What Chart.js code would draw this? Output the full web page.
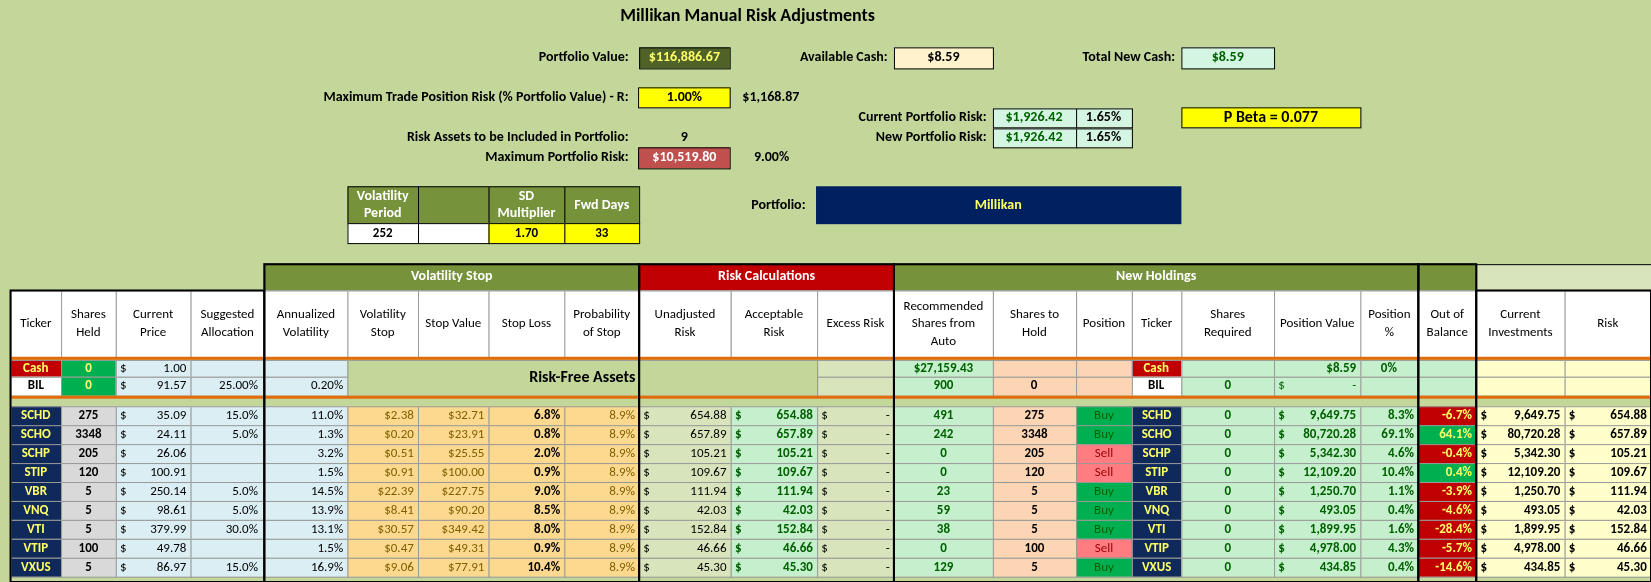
<!DOCTYPE html>
<html><head><meta charset="utf-8">
<script src="https://cdn.jsdelivr.net/npm/chart.js@4.4.0/dist/chart.umd.min.js"></script>
<style>html,body{margin:0;padding:0;background:#c4d79b}#c{display:block}</style>
</head><body>
<div style="width:1651px;height:582px"><canvas id="c"></canvas></div>
<script>
"use strict";
// data
var tickers = ["SCHD","SCHO","SCHP","STIP","VBR","VNQ","VTI","VTIP","VXUS"];
var sharesHeld = [275,3348,205,120,5,5,5,100,5];
var prices = ["35.09","24.11","26.06","100.91","250.14","98.61","379.99","49.78","86.97"];
var allocation = ["15.0%","5.0%","","","5.0%","5.0%","30.0%","","15.0%"];
var annVol = ["11.0%","1.3%","3.2%","1.5%","14.5%","13.9%","13.1%","1.5%","16.9%"];
var volStop = ["$2.38","$0.20","$0.51","$0.91","$22.39","$8.41","$30.57","$0.47","$9.06"];
var stopValue = ["$32.71","$23.91","$25.55","$100.00","$227.75","$90.20","$349.42","$49.31","$77.91"];
var stopLoss = ["6.8%","0.8%","2.0%","0.9%","9.0%","8.5%","8.0%","0.9%","10.4%"];
var probStop = ["8.9%","8.9%","8.9%","8.9%","8.9%","8.9%","8.9%","8.9%","8.9%"];
var risk = ["654.88","657.89","105.21","109.67","111.94","42.03","152.84","46.66","45.30"];
var recommended = [491,242,0,0,23,59,38,0,129];
var position = ["Buy","Buy","Sell","Sell","Buy","Buy","Buy","Sell","Buy"];
var positionValue = ["9,649.75","80,720.28","5,342.30","12,109.20","1,250.70","493.05","1,899.95","4,978.00","434.85"];
var positionPct = ["8.3%","69.1%","4.6%","10.4%","1.1%","0.4%","1.6%","4.3%","0.4%"];
var outOfBalance = ["-6.7%","64.1%","-0.4%","0.4%","-3.9%","-4.6%","-28.4%","-5.7%","-14.6%"];

var colEdges = [10,58,110,181,251,330,397,464,536,607,694,776,849,943,1022,1075,1122,1210,1292,1347,1402,1486,1568];
var headers = ["Ticker","Shares|Held","Current|Price","Suggested|Allocation","Annualized|Volatility","Volatility|Stop","Stop Value","Stop Loss","Probability|of Stop","Unadjusted|Risk","Acceptable|Risk","Excess Risk","Recommended|Shares from|Auto","Shares to|Hold","Position","Ticker","Shares|Required","Position Value","Position|%","Out of|Balance","Current|Investments","Risk"];
var colFill = ["#0f2a5a","#d9d9d9","#dbeef4","#dbeef4","#dbeef4","#fcd98f","#fcd98f","#fcd98f","#fcd98f","#d8e4bc","#c6efce","#d8e4bc","#c6efce","#fcd5b4","","#0f2a5a","#c6efce","#c6efce","#c6efce","","#ffffcc","#ffffcc"];

var FONT = "Calibri, 'Liberation Sans', Arial, sans-serif";
var K = 1651 / 1568;

var sheet = {
  id: "sheet",
  afterDraw: function (chart) {
    var ctx = chart.ctx, xs = chart.scales.x, ys = chart.scales.y;
    var X = function (v) { return xs.getPixelForValue(v); };
    var Y = function (v) { return ys.getPixelForValue(v); };
    function rect(x0, y0, x1, y1, fill, stroke, lw) {
      if (fill) { ctx.fillStyle = fill; ctx.fillRect(X(x0), Y(y0), X(x1) - X(x0), Y(y1) - Y(y0)); }
      if (stroke) { ctx.strokeStyle = stroke; ctx.lineWidth = lw || 1; ctx.strokeRect(X(x0) + .5, Y(y0) + .5, X(x1) - X(x0), Y(y1) - Y(y0)); }
    }
    function text(s, x, y, align, color, size, bold) {
      ctx.font = (bold ? "bold " : "") + Math.round((size || 12) * K) + "px " + FONT;
      ctx.fillStyle = color || "#000"; ctx.textAlign = align || "center"; ctx.textBaseline = "middle";
      ctx.fillText(s, X(x), Y(y));
    }
    function money(v, x0, x1, y, color, bold) {
      text("$", x0 + 4, y, "left", color, 12, bold);
      text(v, x1 - 4, y, "right", color, 12, bold);
    }
    ctx.save();
    // top area
    text("Millikan Manual Risk Adjustments", 710, 16, "center", "#000", 17, true);
    text("Portfolio Value:", 597, 55, "right", "#000", 13, true);
    rect(607, 45, 693, 65, "#4f6228", "#000"); text("$116,886.67", 650, 55, "center", "#ffff66", 13, true);
    text("Available Cash:", 843, 55, "right", "#000", 13, true);
    rect(849, 45, 943, 65, "#fff2cc", "#000"); text("$8.59", 896, 55, "center", "#000", 13, true);
    text("Total New Cash:", 1116, 55, "right", "#000", 13, true);
    rect(1122, 45, 1210, 65, "#d5f5e3", "#000"); text("$8.59", 1166, 55, "center", "#006100", 13, true);
    text("Maximum Trade Position Risk (% Portfolio Value) - R:", 597, 93, "right", "#000", 13, true);
    rect(606, 83, 693, 102, "#ffff00", "#000"); text("1.00%", 650, 93, "center", "#000", 13, true);
    text("$1,168.87", 705, 93, "left", "#000", 13, true);
    text("Current Portfolio Risk:", 937, 112, "right", "#000", 13, true);
    text("New Portfolio Risk:", 937, 131, "right", "#000", 13, true);
    [112, 131].forEach(function (y) {
      rect(943, y - 9, 1022, y + 9, "#d5f5e3", "#000"); text("$1,926.42", 982, y, "center", "#006100", 13, true);
      rect(1022, y - 9, 1075, y + 9, "#d5f5e3", "#000"); text("1.65%", 1048, y, "center", "#000", 13, true);
    });
    rect(1122, 102, 1292, 121, "#ffff00", "#000"); text("P Beta = 0.077", 1207, 112, "center", "#000", 15, true);
    text("Risk Assets to be Included in Portfolio:", 597, 131, "right", "#000", 13, true);
    text("9", 650, 131, "center", "#000", 13, true);
    text("Maximum Portfolio Risk:", 597, 150, "right", "#000", 13, true);
    rect(606, 140, 693, 160, "#c0504d", "#000"); text("$10,519.80", 650, 150, "center", "#fff", 13, true);
    text("9.00%", 716, 150, "left", "#000", 13, true);
    var small = [["Volatility|Period", "252", "#fff"], ["", "", "#fff"], ["SD|Multiplier", "1.70", "#ffff00"], ["Fwd Days", "33", "#ffff00"]];
    small.forEach(function (s, i) {
      var x0 = colEdges[5 + i], x1 = colEdges[6 + i], xm = (x0 + x1) / 2;
      rect(x0, 177, x1, 212, "#76933c", "#000");
      var l = s[0].split("|");
      l.forEach(function (t, k) { text(t, xm, 195 + (k - (l.length - 1) / 2) * 16, "center", "#fff", 13, true); });
      rect(x0, 212, x1, 231, s[2], "#000"); text(s[1], xm, 222, "center", "#000", 12, true);
    });
    text("Portfolio:", 765, 195, "right", "#000", 13, true);
    rect(775, 177, 1122, 213, "#002060"); text("Millikan", 948, 195, "center", "#ffff66", 13, true);

    // group headers
    rect(251, 251, 607, 276, "#76933c", "#000"); text("Volatility Stop", 429, 263, "center", "#fff", 13, true);
    rect(607, 251, 849, 276, "#c00000", "#000"); text("Risk Calculations", 728, 263, "center", "#fff", 13, true);
    rect(849, 251, 1347, 276, "#76933c", "#000"); text("New Holdings", 1098, 263, "center", "#fff", 13, true);
    rect(1347, 251, 1402, 276, "#76933c", "#000");
    rect(1402, 251, 1568, 276, "#d8e4bc", "#000");
    // column headers
    for (var c = 0; c < headers.length; c++) {
      var x0 = colEdges[c], x1 = colEdges[c + 1];
      rect(x0, 276, x1, 340, "#fff", "#999");
      var lines = headers[c].split("|");
      lines.forEach(function (t, k) { text(t, (x0 + x1) / 2, 308 + (k - (lines.length - 1) / 2) * 17, "center", "#000", 12); });
    }
    // cash / BIL rows
    var cy = [[342, 358], [358, 376]];
    for (c = 0; c < 22; c++) {
      if (c >= 5 && c <= 10) continue;
      var f = ["#c00000", "#00b050", "#dbeef4", "#dbeef4", "#dbeef4"][c] || ["", "", "", "", "", "", "", "", "", "", "", "#d8e4bc", "#c6efce", "#fcd5b4", "#fcd5b4", "#c00000", "#c6efce", "#c6efce", "#c6efce", "#c6efce", "#ffffcc", "#ffffcc"][c];
      cy.forEach(function (r, i) {
        var ff = f;
        if ((c === 0 || c === 15) && i === 1) ff = "#fff";
        if (c === 1 && i === 1) ff = "#00b050";
        rect(colEdges[c], r[0], colEdges[c + 1], r[1], ff, "#999");
      });
    }
    rect(330, 342, 776, 376, "#c4d79b", "#999");
    text("Risk-Free Assets", 553, 359, "center", "#000", 15, true);
    text("Cash", 34, 350, "center", "#ffff66", 12, true); text("BIL", 34, 367, "center", "#000", 12, true);
    text("0", 84, 350, "center", "#ffff66", 12, true); text("0", 84, 367, "center", "#ffff66", 12, true);
    money("1.00", 110, 181, 350); money("91.57", 110, 181, 367);
    text("25.00%", 245, 367, "right"); text("0.20%", 326, 367, "right");
    text("$27,159.43", 896, 350, "center", "#006100", 12, true); text("900", 896, 367, "center", "#006100", 12, true);
    text("0", 982, 367, "center", "#000", 12, true);
    text("Cash", 1098, 350, "center", "#ffff66", 12, true); text("BIL", 1098, 367, "center", "#000", 12, true);
    text("0", 1166, 367, "center", "#006100", 12, true);
    text("$8.59", 1288, 350, "right", "#006100", 12, true);
    money("-", 1210, 1292, 367, "#006100");
    text("0%", 1319, 350, "center", "#006100", 12, true);
    // data rows
    tickers.forEach(function (t, i) {
      var y0 = 386 + i * 18, y1 = y0 + 18, ym = y0 + 9;
      for (var c = 0; c < 22; c++) {
        var f = colFill[c];
        if (c === 14) f = position[i] === "Buy" ? "#00b050" : "#ff7c80";
        if (c === 19) f = outOfBalance[i].charAt(0) === "-" ? "#c00000" : "#00b050";
        rect(colEdges[c], y0, colEdges[c + 1], y1, f, "#999");
      }
      var cx = function (c) { return (colEdges[c] + colEdges[c + 1]) / 2; };
      text(t, cx(0), ym, "center", "#ffff66", 12, true);
      text(String(sharesHeld[i]), cx(1), ym, "center", "#000", 12, true);
      money(prices[i], 110, 181, ym);
      text(allocation[i], 245, ym, "right");
      text(annVol[i], 326, ym, "right");
      text(volStop[i], 393, ym, "right", "#7f6000");
      text(stopValue[i], 460, ym, "right", "#7f6000");
      text(stopLoss[i], 532, ym, "right", "#000", 12, true);
      text(probStop[i], 603, ym, "right", "#7f6000");
      money(risk[i], 607, 694, ym);
      money(risk[i], 694, 776, ym, "#006100", true);
      money("-", 776, 849, ym);
      text(String(recommended[i]), cx(12), ym, "center", "#006100", 12, true);
      text(String(sharesHeld[i]), cx(13), ym, "center", "#000", 12, true);
      text(position[i], cx(14), ym, "center", position[i] === "Buy" ? "#006100" : "#9c0006");
      text(t, cx(15), ym, "center", "#ffff66", 12, true);
      text("0", cx(16), ym, "center", "#006100", 12, true);
      money(positionValue[i], 1210, 1292, ym, "#006100", true);
      text(positionPct[i], 1343, ym, "right", "#006100", 12, true);
      text(outOfBalance[i], 1398, ym, "right", "#ffff66", 12, true);
      money(positionValue[i], 1402, 1486, ym, "#000", true);
      money(risk[i], 1486, 1568, ym, "#000", true);
    });
    // orange separator lines
    ctx.fillStyle = "#e26b0a";
    ctx.fillRect(X(10), Y(339), X(1568) - X(10), 3);
    ctx.fillRect(X(10), Y(376), X(1568) - X(10), 3);
    // thick borders
    ctx.strokeStyle = "#000"; ctx.lineWidth = 2;
    [[10, 276, 251, 553], [251, 251, 607, 553], [607, 251, 849, 553], [849, 251, 1347, 553], [1347, 251, 1402, 553], [1402, 276, 1568, 553]].forEach(function (b) {
      ctx.strokeRect(X(b[0]), Y(b[1]), X(b[2]) - X(b[0]), Y(b[3]) - Y(b[1]));
    });
    ctx.restore();
  }
};

new Chart(document.getElementById("c").getContext("2d"), {
  type: "scatter",
  data: { datasets: [{ data: [], pointRadius: 0 }] },
  options: {
    responsive: true, maintainAspectRatio: false, animation: false,
    layout: { padding: 0 },
    plugins: { legend: { display: false }, tooltip: { enabled: false } },
    scales: {
      x: { type: "linear", min: 0, max: 1568, display: false },
      y: { type: "linear", min: 0, max: 553, reverse: true, display: false }
    }
  },
  plugins: [sheet]
});
</script>
</body></html>
